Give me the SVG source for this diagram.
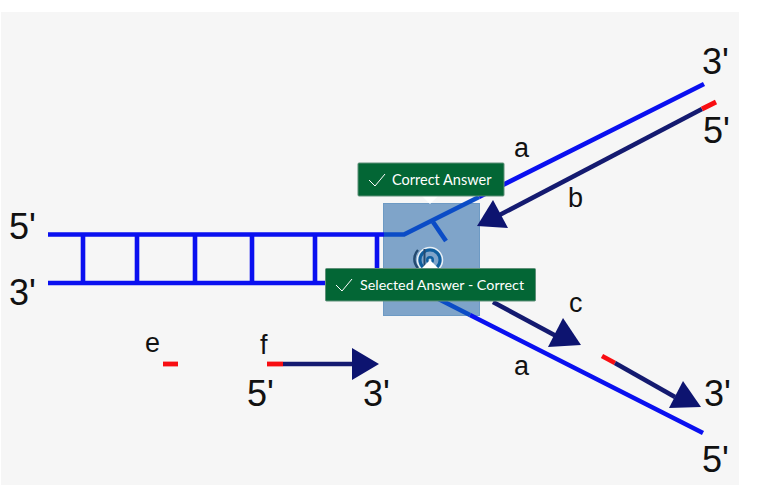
<svg xmlns="http://www.w3.org/2000/svg" width="775" height="495" viewBox="0 0 775 495">
<style>
.blue{stroke:#0a10f0;stroke-width:4.600;fill:none}
.under{stroke:#0b4cc6;stroke-width:4.600;fill:none}
.navy{stroke:#141a70;stroke-width:4.600;fill:none}
.red{stroke:#f80d12;stroke-width:4.800;fill:none}
.head{fill:#0d1470}
.lbl{font-family:"Liberation Sans",Arial,sans-serif;font-size:36px;fill:#111}
.sm{font-family:"Liberation Sans",Arial,sans-serif;font-size:27px;fill:#111}
.tip{fill:#036635;stroke:#5f8f78;stroke-width:1}
.tt{font-family:Lato,"Open Sans",sans-serif;font-size:14.500px;fill:#fff}
.chk{fill:none;stroke:#fff;stroke-width:1}
</style>
<rect x="0" y="0" width="775" height="495" fill="#fff"/>
<rect x="1" y="12" width="738" height="473" fill="#f6f6f6"/>
<g id="hotspot">
<rect x="383.500" y="203.500" width="96" height="112" fill="#7fa4c9" stroke="#6d9ac4" stroke-width="1"/>
</g>
<g id="connectors">
<path class="blue" d="M48 234.500H384M479 197L704 84"/>
<path class="blue" d="M48 283H384M470 315L703 433"/>
<path class="blue" d="M83 234.500V283M137 234.500V283M195 234.500V283M252 234.500V283M315 234.500V283M377 234.500V283"/>
<path class="under" d="M384 234.500H404L479 197"/>
<path class="under" d="M384 283H407L470 315"/>
<path class="under" d="M433 222L446 241"/>
<path class="navy" d="M702 109L490 220"/>
<path class="red" d="M702 109L716 102"/>
<path class="head" d="M477 226L493 200L508 228Z"/>
<path class="navy" d="M493 302L558 337"/>
<path class="head" d="M563 318L548 347L581 345Z"/>
<path class="red" d="M602 356L615 363"/>
<path class="navy" d="M615 363L675 397"/>
<path class="head" d="M683 381L669 408L701 407Z"/>
<path class="red" d="M267 364H283"/>
<path class="navy" d="M283 364H355"/>
<path class="head" d="M352 348V380L379 364Z"/>
<path class="red" d="M163 364H178"/>
</g>
<g id="labels">
<text class="lbl" x="9" y="239">5'</text>
<text class="lbl" x="9" y="305">3'</text>
<text class="lbl" x="247" y="406">5'</text>
<text class="lbl" x="363" y="406">3'</text>
<text class="lbl" x="702" y="74">3'</text>
<text class="lbl" x="703" y="143">5'</text>
<text class="lbl" x="704" y="406">3'</text>
<text class="lbl" x="702" y="472">5'</text>
<text class="sm" x="145" y="352">e</text>
<text class="sm" x="260" y="354">f</text>
<text class="sm" x="514" y="157">a</text>
<text class="sm" x="568" y="207">b</text>
<text class="sm" x="569" y="312">c</text>
<text class="sm" x="514" y="375">a</text>
</g>
<g id="icon">
<circle cx="430" cy="260" r="12.500" fill="none" stroke="#e8f0f6" stroke-width="1.500"/>
<circle cx="430" cy="260" r="10" fill="none" stroke="#0f5f9f" stroke-width="3"/>
<circle cx="430" cy="260" r="4" fill="#0f5f9f"/>
<circle cx="430" cy="260" r="1.500" fill="#cfe0ee"/>
<path d="M418 250a13 13 0 0 0 0 18" fill="none" stroke="#244a70" stroke-width="2.500"/>
<path d="M424.500 249V268" fill="none" stroke="#244a70" stroke-width="2"/>
</g>
<g id="correct-answer">
<path d="M422 196L430 204L438 196Z" fill="#fff"/>
<rect class="tip" x="358" y="163" width="146" height="33" rx="1"/>
<path class="chk" d="M369 180L375 186L385 174"/>
<text class="tt" x="392" y="185">Correct Answer</text>
</g>
<g id="selected-answer">
<path d="M422 268L430 260L438 268Z" fill="#fff"/>
<rect class="tip" x="325.500" y="268.500" width="210" height="32.500" rx="1"/>
<path class="chk" d="M336 285L342 291L352 279"/>
<text class="tt" x="360" y="290" style="font-size:14.300px">Selected Answer - Correct</text>
</g>
</svg>
